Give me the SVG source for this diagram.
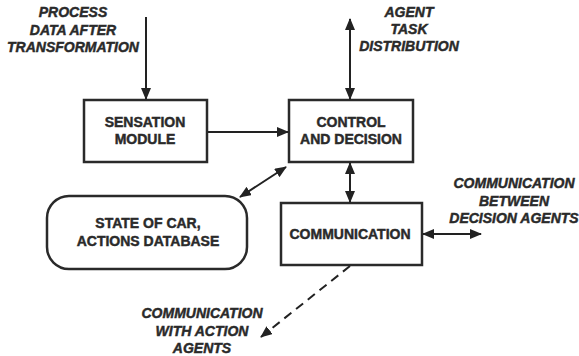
<svg xmlns="http://www.w3.org/2000/svg" width="579" height="356" viewBox="0 0 579 356">
  <style>
    .box { fill: #fff; stroke: #2a2a2a; stroke-width: 2.5; }
    .lbl { font-family: "Liberation Sans", Arial, sans-serif; font-weight: bold; font-size: 14px; fill: #2a2a2a; stroke: #2a2a2a; stroke-width: 0.45; text-anchor: middle; }
    .ext { font-family: "Liberation Sans", Arial, sans-serif; font-weight: bold; font-style: italic; font-size: 14px; fill: #2a2a2a; stroke: #2a2a2a; stroke-width: 0.45; text-anchor: middle; }
    .wire { fill: none; stroke: #222; stroke-width: 2; }
    .dash { stroke-dasharray: 9 6; }
  </style>
  <defs>
    <marker id="head" markerUnits="userSpaceOnUse" markerWidth="12" markerHeight="10" refX="11" refY="5" orient="auto-start-reverse">
      <path d="M0,0 L12,5 L0,10 z" fill="#222"/>
    </marker>
  </defs>

  <rect width="579" height="356" fill="#fff"/>

  <!-- free-standing labels -->
  <g id="input-label">
    <text class="ext" x="73" y="17">PROCESS</text>
    <text class="ext" x="73" y="35">DATA AFTER</text>
    <text class="ext" x="73" y="52">TRANSFORMATION</text>
  </g>
  <g id="task-label">
    <text class="ext" x="409" y="17">AGENT</text>
    <text class="ext" x="409" y="34">TASK</text>
    <text class="ext" x="409" y="51">DISTRIBUTION</text>
  </g>
  <g id="peer-label">
    <text class="ext" x="514" y="188">COMMUNICATION</text>
    <text class="ext" x="514" y="206">BETWEEN</text>
    <text class="ext" x="514" y="223">DECISION AGENTS</text>
  </g>
  <g id="action-label">
    <text class="ext" x="202" y="318">COMMUNICATION</text>
    <text class="ext" x="202" y="336">WITH ACTION</text>
    <text class="ext" x="202" y="353">AGENTS</text>
  </g>

  <!-- nodes -->
  <g id="sensation">
    <rect class="box" x="84" y="100" width="123" height="62"/>
    <text class="lbl" x="145" y="127">SENSATION</text>
    <text class="lbl" x="145" y="144">MODULE</text>
  </g>
  <g id="control">
    <rect class="box" x="289" y="100" width="124" height="62"/>
    <text class="lbl" x="351" y="127">CONTROL</text>
    <text class="lbl" x="351" y="144">AND DECISION</text>
  </g>
  <g id="database">
    <rect class="box" x="47" y="196" width="200" height="73" rx="22" ry="22"/>
    <text class="lbl" x="148" y="228">STATE OF CAR,</text>
    <text class="lbl" x="148" y="246">ACTIONS DATABASE</text>
  </g>
  <g id="communication">
    <rect class="box" x="281" y="203" width="141" height="62"/>
    <text class="lbl" x="350" y="239">COMMUNICATION</text>
  </g>

  <!-- connectors -->
  <g id="connectors">
    <line class="wire" x1="146" y1="17" x2="146" y2="99" marker-end="url(#head)"/>
    <line class="wire" x1="208" y1="132" x2="288" y2="132" marker-end="url(#head)"/>
    <line class="wire" x1="350" y1="19" x2="350" y2="99" marker-start="url(#head)" marker-end="url(#head)"/>
    <line class="wire" x1="350" y1="163" x2="350" y2="202" marker-start="url(#head)" marker-end="url(#head)"/>
    <line class="wire" x1="286" y1="167" x2="240" y2="197" marker-start="url(#head)" marker-end="url(#head)"/>
    <line class="wire" x1="423" y1="234" x2="481" y2="234" marker-start="url(#head)" marker-end="url(#head)"/>
    <line class="wire dash" x1="350" y1="266" x2="261" y2="337" marker-end="url(#head)"/>
  </g>
</svg>
